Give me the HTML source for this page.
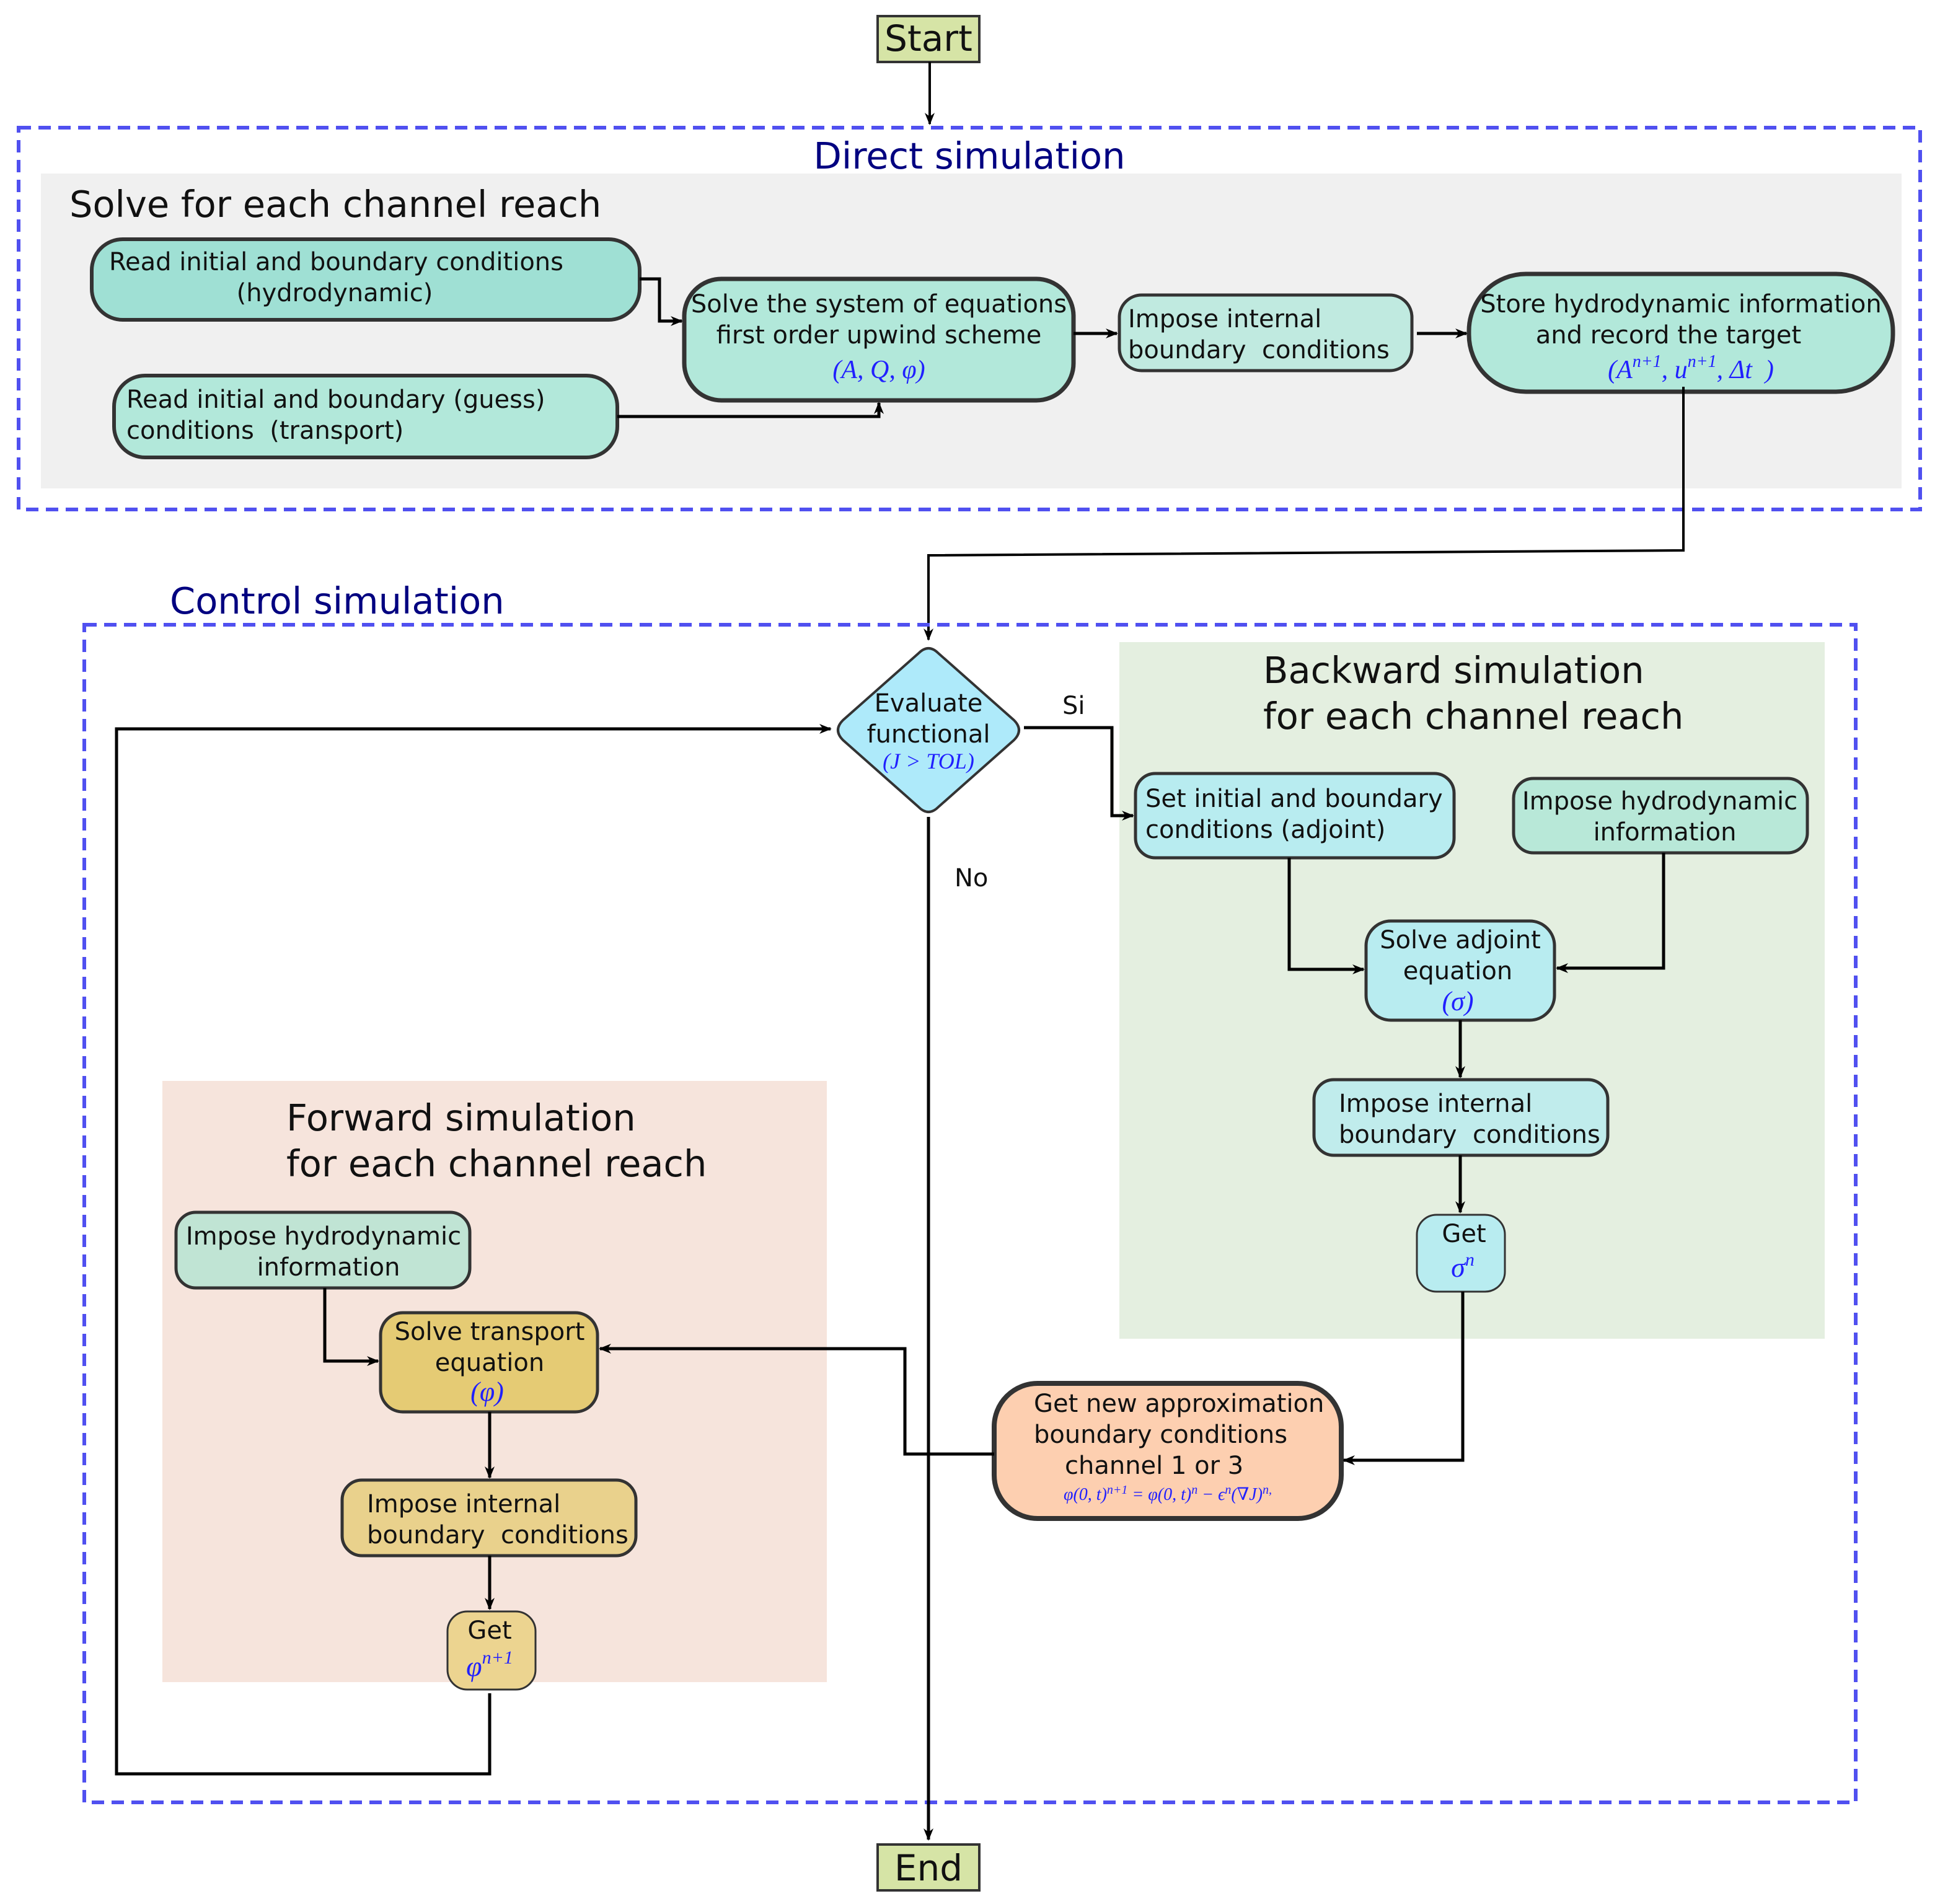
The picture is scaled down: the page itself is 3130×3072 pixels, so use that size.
<!DOCTYPE html>
<html><head><meta charset="utf-8"><style>
html,body{margin:0;padding:0;background:#fff;}
svg{display:block;}
text{font-family:"DejaVu Sans","Liberation Sans",sans-serif;fill:#111;white-space:pre;}
.m{font-family:"Liberation Serif","DejaVu Serif",serif;font-style:italic;fill:#2020ff;}
.t{font-size:20px;}
.h{font-size:29.5px;}
</style></head><body>
<svg width="3130" height="3072" viewBox="0 0 1565 1536" xmlns="http://www.w3.org/2000/svg">
<defs>
<marker id="a" markerWidth="10" markerHeight="8" refX="9" refY="4" orient="auto" markerUnits="userSpaceOnUse">
<path d="M0,0 L10,4 L0,8 L3,4 z" fill="#000"/></marker>
</defs>
<rect x="708" y="13" width="82" height="37" fill="#d6e4a6" stroke="#333" stroke-width="2"/>
<text x="749" y="41" font-size="29" text-anchor="middle">Start</text>
<line x1="750" y1="50" x2="750" y2="100" stroke="#000" stroke-width="2" marker-end="url(#a)"/>

<rect x="15" y="103" width="1534" height="308" fill="none" stroke="#5050f0" stroke-width="3" stroke-dasharray="10 6"/>
<text class="h" x="782" y="136" text-anchor="middle" style="fill:#000080">Direct simulation</text>
<rect x="33" y="140" width="1501" height="254" fill="#f0f0f0"/>
<text class="h" x="56" y="175">Solve for each channel reach</text>

<g stroke="#333" stroke-width="3">
<rect x="74" y="193" width="442" height="65" rx="25" fill="#9fe0d4"/>
<rect x="92" y="303" width="406" height="66" rx="25" fill="#b2e8da"/>
<rect x="552" y="225" width="314" height="98" rx="30" fill="#b2e8da" stroke-width="3.5"/>
<rect x="903" y="238" width="236" height="61" rx="18" fill="#c0eae0" stroke-width="2.5"/>
<rect x="1185" y="221" width="342" height="95" rx="46" fill="#b2e8da" stroke-width="3.5"/>
</g>
<text class="t" x="88" y="218">Read initial and boundary conditions</text>
<text class="t" x="270" y="243" text-anchor="middle">(hydrodynamic)</text>
<text class="t" x="102" y="329">Read initial and boundary (guess)</text>
<text class="t" x="102" y="354">conditions  (transport)</text>
<text class="t" x="709" y="252" text-anchor="middle">Solve the system of equations</text>
<text class="t" x="709" y="277" text-anchor="middle">first order upwind scheme</text>
<text class="m" x="709" y="305" font-size="21" text-anchor="middle">(A, Q, φ)</text>
<text class="t" x="910" y="264">Impose internal</text>
<text class="t" x="910" y="289">boundary  conditions</text>
<text class="t" x="1356" y="252" text-anchor="middle">Store hydrodynamic information</text>
<text class="t" x="1346" y="277" text-anchor="middle">and record the target</text>
<text class="m" x="1364" y="305" font-size="21" text-anchor="middle">(A<tspan font-size="14" dy="-9">n+1</tspan><tspan dy="9">, u</tspan><tspan font-size="14" dy="-9">n+1</tspan><tspan dy="9">, Δt  )</tspan></text>

<g stroke="#000" stroke-width="2.5" fill="none">
<polyline points="516,225 532,225 532,259 550,259" marker-end="url(#a)"/>
<polyline points="498,336 709,336 709,325" marker-end="url(#a)"/>
<line x1="866" y1="269" x2="901" y2="269" marker-end="url(#a)"/>
<line x1="1143" y1="269" x2="1183" y2="269" marker-end="url(#a)"/>
<polyline points="1358,312 1358,444 749,448 749,516" marker-end="url(#a)" stroke-width="2"/>
</g>

<text class="h" x="137" y="495" style="fill:#000080">Control simulation</text>
<rect x="68" y="504" width="1429" height="950" fill="none" stroke="#5050f0" stroke-width="3" stroke-dasharray="10 6"/>
<rect x="903" y="518" width="569" height="562" fill="#e4efe0"/>
<rect x="131" y="872" width="536" height="485" fill="#f6e4dc"/>
<text class="h" x="1019" y="551">Backward simulation</text>
<text class="h" x="1019" y="588">for each channel reach</text>
<text class="h" x="231" y="912">Forward simulation</text>
<text class="h" x="231" y="949">for each channel reach</text>

<path d="M741,527 Q749,519 757,527 L818,581 Q826,589 818,597 L757,651 Q749,659 741,651 L680,597 Q672,589 680,581 Z" fill="#aeeafa" stroke="#333" stroke-width="2"/>
<text class="t" x="749" y="574" text-anchor="middle">Evaluate</text>
<text class="t" x="749" y="599" text-anchor="middle">functional</text>
<text class="m" x="749" y="620" font-size="18" text-anchor="middle">(J &gt; TOL)</text>

<g stroke="#333" stroke-width="2.5">
<rect x="916" y="624" width="257" height="68" rx="16" fill="#b8ecf0"/>
<rect x="1221" y="628" width="237" height="60" rx="16" fill="#b8e8d8"/>
<rect x="1102" y="743" width="152" height="80" rx="20" fill="#b8ecf0"/>
<rect x="1060" y="871" width="237" height="61" rx="16" fill="#c0ecec"/>
<rect x="1143" y="980" width="71" height="62" rx="16" fill="#b8ecf0" stroke-width="1.5"/>
<rect x="802" y="1116" width="280" height="109" rx="35" fill="#fdcfb0" stroke-width="4"/>
<rect x="142" y="978" width="237" height="61" rx="16" fill="#c0e4d4"/>
<rect x="307" y="1059" width="175" height="80" rx="18" fill="#e5cb74"/>
<rect x="276" y="1194" width="237" height="61" rx="16" fill="#e9d18c"/>
<rect x="361" y="1300" width="71" height="63" rx="16" fill="#ecd490" stroke-width="1.5"/>
</g>
<text class="t" x="924" y="651">Set initial and boundary</text>
<text class="t" x="924" y="676">conditions (adjoint)</text>
<text class="t" x="1339" y="653" text-anchor="middle">Impose hydrodynamic</text>
<text class="t" x="1343" y="678" text-anchor="middle">information</text>
<text class="t" x="1178" y="765" text-anchor="middle">Solve adjoint</text>
<text class="t" x="1176" y="790" text-anchor="middle">equation</text>
<text class="m" x="1176" y="815" font-size="22" text-anchor="middle">(σ)</text>
<text class="t" x="1080" y="897">Impose internal</text>
<text class="t" x="1080" y="922">boundary  conditions</text>
<text class="t" x="1181" y="1002" text-anchor="middle">Get</text>
<text class="m" x="1180" y="1030" font-size="23" text-anchor="middle">σ<tspan font-size="15" dy="-9">n</tspan></text>
<text class="t" x="834" y="1139">Get new approximation</text>
<text class="t" x="834" y="1164">boundary conditions</text>
<text class="t" x="859" y="1189">channel 1 or 3</text>
<text class="m" x="942" y="1210" font-size="14" text-anchor="middle">φ(0, t)<tspan font-size="10" dy="-5">n+1</tspan><tspan dy="5"> = φ(0, t)</tspan><tspan font-size="10" dy="-5">n</tspan><tspan dy="5"> − ϵ</tspan><tspan font-size="10" dy="-5">n</tspan><tspan dy="5">(∇J)</tspan><tspan font-size="10" dy="-5">n,</tspan></text>
<text class="t" x="261" y="1004" text-anchor="middle">Impose hydrodynamic</text>
<text class="t" x="265" y="1029" text-anchor="middle">information</text>
<text class="t" x="395" y="1081" text-anchor="middle">Solve transport</text>
<text class="t" x="395" y="1106" text-anchor="middle">equation</text>
<text class="m" x="393" y="1130" font-size="22" text-anchor="middle">(φ)</text>
<text class="t" x="296" y="1220">Impose internal</text>
<text class="t" x="296" y="1245">boundary  conditions</text>
<text class="t" x="395" y="1322" text-anchor="middle">Get</text>
<text class="m" x="395" y="1352" font-size="23" text-anchor="middle">φ<tspan font-size="15" dy="-10">n+1</tspan></text>

<text class="t" x="857" y="576">Si</text>
<text class="t" x="770" y="715">No</text>

<g stroke="#000" stroke-width="2.5" fill="none">
<polyline points="826,587 897,587 897,658 914,658" marker-end="url(#a)"/>
<line x1="749" y1="659" x2="749" y2="1484" marker-end="url(#a)"/>
<polyline points="1040,692 1040,782 1100,782" marker-end="url(#a)"/>
<polyline points="1342,688 1342,781 1256,781" marker-end="url(#a)"/>
<line x1="1178" y1="823" x2="1178" y2="869" marker-end="url(#a)"/>
<line x1="1178" y1="932" x2="1178" y2="978" marker-end="url(#a)"/>
<polyline points="1180,1042 1180,1178 1084,1178" marker-end="url(#a)"/>
<polyline points="802,1173 730,1173 730,1088 484,1088" marker-end="url(#a)"/>
<polyline points="262,1039 262,1098 305,1098" marker-end="url(#a)"/>
<line x1="395" y1="1139" x2="395" y2="1192" marker-end="url(#a)"/>
<line x1="395" y1="1255" x2="395" y2="1298" marker-end="url(#a)"/>
<polyline points="395,1366 395,1431 94,1431 94,588 670,588" marker-end="url(#a)"/>
</g>

<rect x="708" y="1488" width="82" height="37" fill="#d6e4a6" stroke="#333" stroke-width="2"/>
<text x="749" y="1517" font-size="29" text-anchor="middle">End</text>
</svg>
</body></html>
